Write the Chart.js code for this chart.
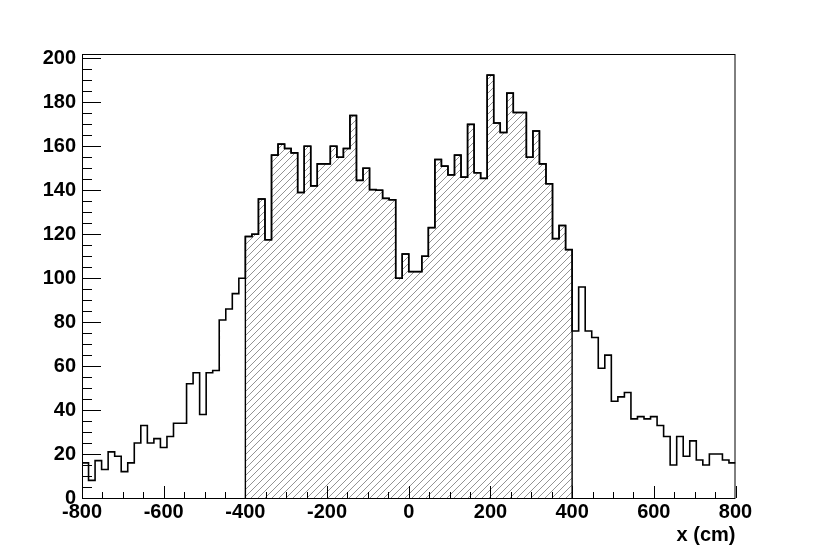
<!DOCTYPE html>
<html>
<head>
<meta charset="utf-8">
<script src="https://cdn.jsdelivr.net/npm/chart.js@4.4.1/dist/chart.umd.min.js"></script>
<style>
  body { margin: 0; background: #fff; }
  canvas { display: block; }
</style>
</head>
<body>
<canvas id="histo" width="817" height="554"></canvas>
<script>
// histogram binning (-800 .. 800 cm, 100 bins)
const xRange = [-800, 800];
const nBins = 100;
// counts per bin, read from left to right
const counts = [
  16, 8, 17, 13, 21, 19, 12, 16, 25, 33,
  25, 27, 23, 28, 34, 34, 52, 57, 38, 57,
  58, 81, 86, 93, 100, 119, 120, 136, 117.5, 156,
  161, 159, 157, 139, 160, 142, 152, 152, 160, 155,
  159, 174, 144.5, 150, 140.3, 140, 136.3, 135.7, 100, 111,
  103, 103, 110, 123, 154, 151, 147, 156, 146, 170,
  148, 145.4, 192.4, 170.6, 166.3, 184.2, 175.4, 175.4, 155, 167,
  152, 143, 118, 124, 113, 76, 96, 76, 73, 59,
  65, 44, 46, 48, 36, 37, 36, 37, 33, 28,
  15, 28, 19, 26, 17.3, 15, 20, 20, 17.3, 16
];
// hatched (selected) window
const hatchRange = [-400, 400];
const xTickStep = 200;
const yTickStep = 20;
const yMax = 202;  // 1.05 * maximum bin

const binW = (xRange[1] - xRange[0]) / nBins;

// outline: stepped line through bin left edges, closed at the right edge
const outline = counts.map((c, i) => ({ x: xRange[0] + i * binW, y: c }));
outline.push({ x: xRange[1], y: counts[nBins - 1] });

// hatched part
const hatched = [{ x: hatchRange[0], y: 0 }];
counts.forEach((c, i) => {
  const lo = xRange[0] + i * binW;
  if (lo >= hatchRange[0] && lo < hatchRange[1]) hatched.push({ x: lo, y: c });
});
hatched.push({ x: hatchRange[1], y: 0 });

function hatchPattern() {
  const s = 7;
  const c = document.createElement('canvas');
  c.width = s; c.height = s;
  const g = c.getContext('2d');
  g.strokeStyle = '#777';
  g.lineWidth = 0.8;
  g.beginPath();
  g.moveTo(-1, 1); g.lineTo(1, -1);
  g.moveTo(0, s); g.lineTo(s, 0);
  g.moveTo(s - 1, s + 1); g.lineTo(s + 1, s - 1);
  g.stroke();
  return g.createPattern(c, 'repeat');
}

// frame + inward ticks like ROOT
const frameTicks = {
  id: 'frameTicks',
  afterDatasetsDraw(chart) {
    const ctx = chart.ctx, a = chart.chartArea;
    const xs = chart.scales.x, ys = chart.scales.y;
    ctx.save();
    ctx.strokeStyle = '#000';
    ctx.lineWidth = 1;
    ctx.strokeRect(a.left + 0.5, a.top + 0.5, a.right - a.left - 1, a.bottom - a.top);
    ctx.beginPath();
    for (let v = xRange[0]; v <= xRange[1]; v += 50) {
      const px = Math.round(xs.getPixelForValue(v)) + 0.5;
      const len = v % xTickStep === 0 ? 12 : 6;
      ctx.moveTo(px, a.bottom);
      ctx.lineTo(px, a.bottom - len);
    }
    for (let v = 0; v <= 200; v += 5) {
      const py = Math.round(ys.getPixelForValue(v)) + 0.5;
      const len = v % yTickStep === 0 ? 19 : 10;
      ctx.moveTo(a.left, py);
      ctx.lineTo(a.left + len, py);
    }
    ctx.stroke();
    ctx.restore();
  }
};

const labelFont = { family: 'Liberation Sans', size: 20, weight: 'bold' };

new Chart(document.getElementById('histo'), {
  type: 'line',
  data: {
    datasets: [{
      data: outline,
      stepped: 'before',
      borderColor: '#000',
      borderWidth: 1.6,
      pointRadius: 0,
      fill: false
    }, {
      data: hatched,
      stepped: 'before',
      borderColor: '#000',
      borderWidth: 1.4,
      pointRadius: 0,
      backgroundColor: hatchPattern(),
      fill: 'origin'
    }]
  },
  options: {
    responsive: false,
    animation: false,
    layout: { padding: { left: 0, right: 81.5, top: 54, bottom: 0 } },
    plugins: { legend: { display: false }, tooltip: { enabled: false } },
    scales: {
      x: {
        type: 'linear',
        min: xRange[0],
        max: xRange[1],
        afterFit(scale) { scale.height = 56; },
        grid: { display: false, drawTicks: false },
        border: { display: false },
        ticks: {
          stepSize: xTickStep,
          padding: 2,
          color: '#000',
          font: labelFont,
          maxRotation: 0,
          autoSkip: false,
          callback: v => String(v)
        },
        title: {
          display: true,
          text: 'x (cm)',
          align: 'end',
          color: '#000',
          font: labelFont,
          padding: { top: 0, bottom: 7 }
        }
      },
      y: {
        min: 0,
        max: yMax,
        afterFit(scale) { scale.width = 82; },
        grid: { display: false, drawTicks: false },
        border: { display: false },
        ticks: {
          stepSize: yTickStep,
          includeBounds: false,
          padding: 6,
          color: '#000',
          font: labelFont,
          callback: v => String(v)
        }
      }
    }
  },
  plugins: [frameTicks]
});
</script>
</body>
</html>
